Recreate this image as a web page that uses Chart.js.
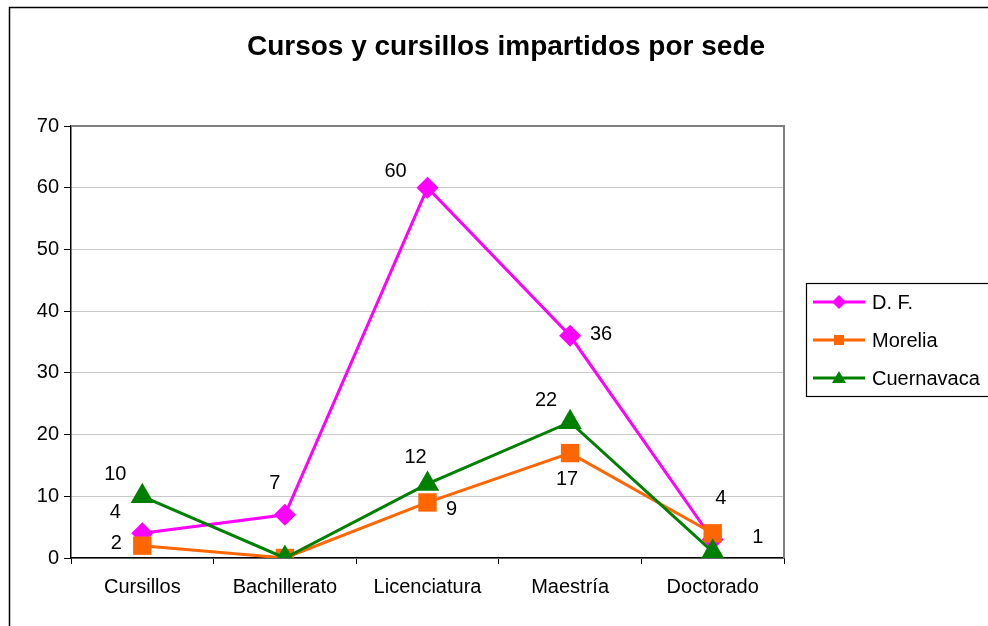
<!DOCTYPE html>
<html>
<head>
<meta charset="utf-8">
<script src="https://cdn.jsdelivr.net/npm/chart.js@4"></script>
<style>
html,body{margin:0;padding:0;background:#fff;}
#wrap{width:988px;height:626px;position:relative;}
</style>
</head>
<body>
<div id="wrap"><canvas id="c" width="988" height="626"></canvas></div>
<script>
const title = "Cursos y cursillos impartidos por sede";
const categories = ["Cursillos", "Bachillerato", "Licenciatura", "Maestría", "Doctorado"];
const seriesNames = ["D. F.", "Morelia", "Cuernavaca"];
const dfValues = [4, 7, 60, 36, 3];
const moreliaValues = [2, 0, 9, 17, 4];
const cuernavacaValues = [10, 0, 12, 22, 1];
const yTicks = [0, 10, 20, 30, 40, 50, 60, 70];

const FONT = "'Liberation Sans', Arial, sans-serif";

// label offsets (style only): [dx, dy] or null to hide
const labelOffsets = [
  [[-27,-21],[-10,-31],[-32,-16],[31,-1],null],
  [[-26,-2],null,[24,7],[-3,26],[8,-35]],
  [[-27,-22],null,[-12,-26],[-24,-22],[45,-14]]
];

const frame = {
  id: 'frame',
  beforeDraw(chart) {
    const ctx = chart.ctx;
    ctx.save();
    ctx.fillStyle = '#fff';
    ctx.fillRect(0,0,chart.width,chart.height);
    ctx.strokeStyle = '#000';
    ctx.lineWidth = 1.5;
    ctx.strokeRect(9.5, 7.5, 990, 630);
    ctx.restore();
  },
  afterDatasetsDraw(chart) {
    const ctx = chart.ctx;
    ctx.save();
    // title
    ctx.fillStyle = '#000';
    ctx.font = "bold 28px " + FONT;
    ctx.textAlign = 'center';
    ctx.textBaseline = 'middle';
    ctx.fillText(title, 506, 47);
    // data labels
    ctx.font = "20px " + FONT;
    chart.data.datasets.forEach((ds, i) => {
      const meta = chart.getDatasetMeta(i);
      meta.data.forEach((pt, j) => {
        const off = labelOffsets[i][j];
        if (!off) return;
        ctx.fillText(String(ds.data[j]), pt.x + off[0], pt.y + off[1]);
      });
    });
    // legend
    const lx = 806, ly = 283, lw = 190, lh = 113;
    ctx.strokeStyle = '#000';
    ctx.lineWidth = 1.2;
    ctx.strokeRect(lx + 0.5, ly + 0.5, lw, lh);
    ctx.textAlign = 'left';
    chart.data.datasets.forEach((ds, i) => {
      const y = 302 + i * 38;
      ctx.strokeStyle = ds.borderColor;
      ctx.lineWidth = 3;
      ctx.beginPath();
      ctx.moveTo(813, y);
      ctx.lineTo(865, y);
      ctx.stroke();
      ctx.fillStyle = ds.borderColor;
      const mx = 839;
      ctx.beginPath();
      if (ds.pointStyle === 'rectRot') {
        ctx.moveTo(mx, y-7); ctx.lineTo(mx+7, y); ctx.lineTo(mx, y+7); ctx.lineTo(mx-7, y);
      } else if (ds.pointStyle === 'rect') {
        ctx.rect(mx-5, y-5, 10, 10);
      } else {
        ctx.moveTo(mx, y-7); ctx.lineTo(mx+7, y+5); ctx.lineTo(mx-7, y+5);
      }
      ctx.closePath();
      ctx.fill();
      ctx.fillStyle = '#000';
      ctx.font = "20px " + FONT;
      ctx.fillText(ds.label, 872, y + 1);
    });
    ctx.restore();
  }
};

const plotBorder = {
  id: 'plotBorder',
  beforeDatasetsDraw(chart) {
    const ctx = chart.ctx, a = chart.chartArea;
    ctx.save();
    ctx.strokeStyle = '#808080';
    ctx.lineWidth = 2;
    ctx.beginPath();
    ctx.moveTo(a.left, a.top);
    ctx.lineTo(a.right, a.top);
    ctx.lineTo(a.right, a.bottom);
    ctx.stroke();
    ctx.restore();
  }
};

new Chart(document.getElementById('c'), {
  type: 'line',
  data: {
    labels: categories,
    datasets: [
      { label: seriesNames[0], data: dfValues, borderColor: '#FF00FF', backgroundColor: '#FF00FF', order: 3,
        pointStyle: 'rectRot', pointRadius: 11, borderWidth: 3, pointBorderWidth: 0 },
      { label: seriesNames[1], data: moreliaValues, borderColor: '#FF6600', backgroundColor: '#FF6600', order: 2,
        pointStyle: 'rect', pointRadius: 13, borderWidth: 3, pointBorderWidth: 0 },
      { label: seriesNames[2], data: cuernavacaValues, borderColor: '#008000', backgroundColor: '#008000', order: 1,
        pointStyle: 'triangle', pointRadius: 13.5, borderWidth: 3, pointBorderWidth: 0 }
    ]
  },
  options: {
    responsive: false,
    animation: false,
    events: [],
    layout: { padding: { left: 0, top: 126, right: 204, bottom: 0 } },
    plugins: { legend: { display: false }, title: { display: false }, tooltip: { enabled: false } },
    elements: { line: { tension: 0 } },
    scales: {
      x: {
        offset: true,
        grid: { offset: true, drawOnChartArea: false, tickLength: 6, tickColor: '#000', color: '#000' },
        border: { color: '#000', width: 1.5 },
        ticks: { color: '#000', font: { family: FONT, size: 20 }, padding: 11, maxRotation: 0 },
        afterFit(s) { s.height = 68; }
      },
      y: {
        min: 0, max: 70,
        afterBuildTicks(s) { s.ticks = yTicks.map(v => ({ value: v })); },
        grid: { color: '#c8c8c8', lineWidth: 1, tickLength: 7, tickColor: '#000' },
        border: { color: '#000', width: 1.5 },
        ticks: { color: '#000', font: { family: FONT, size: 20 }, padding: 5 },
        afterFit(s) { s.width = 71; }
      }
    }
  },
  plugins: [frame, plotBorder]
});
</script>
</body>
</html>
